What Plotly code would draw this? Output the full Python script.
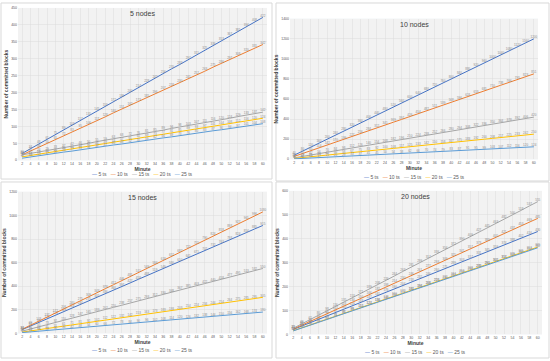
import plotly.graph_objects as go

minutes = list(range(2, 61, 2))
series_names = ["5 ts", "10 ts", "15 ts", "20 ts", "25 ts"]
colors = ["#4472C4", "#ED7D31", "#A5A5A5", "#FFC000", "#5B9BD5"]
panel_titles = ["5 nodes", "10 nodes", "15 nodes", "20 nodes"]
y_max = [450, 1400, 1200, 600]
y_step = [50, 200, 200, 100]

# 5 nodes
n5_5ts = [20, 34, 48, 61, 75, 89, 103, 117, 131, 145, 159, 172, 186, 200, 214, 228, 242, 256, 270, 283, 297, 311, 325, 339, 353, 367, 381, 394, 408, 422]
n5_10ts = [16, 27, 38, 50, 61, 72, 83, 95, 106, 117, 128, 140, 151, 162, 173, 185, 196, 207, 218, 230, 241, 252, 263, 275, 286, 297, 308, 320, 331, 342]
n5_15ts = [16, 20, 24, 29, 33, 37, 42, 46, 50, 55, 59, 63, 68, 72, 76, 81, 85, 89, 94, 98, 103, 107, 111, 116, 120, 124, 129, 133, 137, 142]
n5_20ts = [10, 14, 18, 22, 26, 30, 34, 38, 42, 46, 49, 53, 57, 61, 65, 69, 73, 77, 81, 85, 89, 93, 97, 101, 104, 108, 112, 116, 120, 124]
n5_25ts = [6, 10, 13, 17, 20, 24, 27, 31, 34, 38, 41, 45, 48, 52, 55, 59, 62, 66, 69, 73, 76, 80, 83, 87, 90, 94, 97, 101, 104, 108]

# 10 nodes
n10_5ts = [40, 80, 120, 160, 200, 240, 280, 320, 360, 400, 440, 480, 520, 560, 600, 640, 680, 720, 760, 800, 840, 880, 920, 960, 1000, 1040, 1080, 1120, 1160, 1200]
n10_10ts = [28, 57, 85, 114, 142, 170, 199, 227, 256, 284, 312, 341, 369, 397, 426, 454, 482, 511, 539, 568, 596, 624, 653, 681, 710, 738, 766, 795, 823, 851]
n10_15ts = [14, 28, 42, 56, 70, 84, 98, 112, 126, 140, 154, 168, 182, 196, 210, 224, 238, 252, 266, 280, 294, 308, 322, 336, 350, 364, 378, 392, 406, 420]
n10_20ts = [8, 17, 25, 33, 42, 50, 58, 67, 75, 83, 92, 100, 108, 117, 125, 133, 142, 150, 158, 167, 175, 183, 192, 200, 208, 217, 225, 233, 242, 250]
n10_25ts = [4, 8, 12, 17, 21, 25, 29, 33, 37, 41, 45, 50, 54, 58, 62, 66, 70, 74, 79, 83, 87, 91, 95, 99, 103, 107, 112, 116, 120, 124]

# 15 nodes
n15_5ts = [31, 61, 92, 122, 153, 183, 214, 244, 275, 305, 336, 366, 397, 427, 458, 488, 519, 549, 580, 610, 641, 671, 702, 732, 763, 793, 824, 854, 885, 915]
n15_10ts = [34, 69, 103, 137, 172, 206, 240, 275, 309, 343, 378, 412, 446, 481, 515, 549, 584, 618, 652, 687, 721, 755, 790, 824, 858, 893, 927, 961, 996, 1030]
n15_15ts = [18, 37, 55, 73, 92, 110, 128, 147, 165, 183, 202, 220, 238, 257, 275, 293, 312, 330, 348, 367, 385, 403, 422, 440, 458, 477, 495, 513, 532, 550]
n15_20ts = [10, 20, 31, 41, 51, 61, 71, 81, 92, 102, 112, 122, 132, 142, 153, 163, 173, 183, 193, 203, 214, 224, 234, 244, 254, 264, 275, 285, 295, 305]
n15_25ts = [6, 12, 18, 24, 30, 36, 42, 48, 54, 60, 66, 72, 78, 84, 90, 96, 102, 108, 114, 120, 126, 132, 138, 144, 150, 156, 162, 168, 174, 180]

# 20 nodes
n20_5ts = [20, 34, 48, 62, 77, 91, 105, 119, 133, 147, 161, 176, 190, 204, 218, 232, 246, 260, 275, 289, 303, 317, 331, 345, 359, 374, 388, 402, 416, 430]
n20_10ts = [22, 38, 54, 70, 86, 102, 118, 134, 150, 166, 182, 198, 214, 230, 246, 261, 277, 293, 309, 325, 341, 357, 373, 389, 405, 421, 437, 453, 469, 485]
n20_15ts = [25, 43, 62, 80, 98, 116, 135, 153, 171, 189, 208, 226, 244, 263, 281, 299, 317, 336, 354, 372, 390, 409, 427, 445, 463, 482, 500, 518, 537, 555]
n20_20ts = [15, 27, 39, 51, 63, 75, 87, 99, 112, 124, 136, 148, 160, 172, 184, 196, 208, 220, 232, 244, 256, 268, 280, 292, 305, 317, 329, 341, 353, 365]
n20_25ts = [14, 26, 38, 50, 62, 74, 86, 98, 110, 122, 134, 146, 158, 170, 182, 194, 206, 218, 230, 242, 254, 266, 278, 290, 302, 314, 326, 338, 350, 362]

panels = [
    [n5_5ts, n5_10ts, n5_15ts, n5_20ts, n5_25ts],
    [n10_5ts, n10_10ts, n10_15ts, n10_20ts, n10_25ts],
    [n15_5ts, n15_10ts, n15_15ts, n15_20ts, n15_25ts],
    [n20_5ts, n20_10ts, n20_15ts, n20_20ts, n20_25ts],
]

W, H = 550, 361
def px_x(p): return p / W
def px_y(p): return 1 - p / H

# plot-area boxes in pixels (left, right, top, bottom)
boxes = [(18, 267, 6, 160), (290, 538, 17, 159), (18, 267, 192, 335), (289, 542, 191, 336)]
# outer panel frames (left, right, top, bottom)
frames = [(1, 272, 1, 179), (276, 549, 1, 181), (1, 272, 182, 360), (276, 549, 182, 360)]
legend_y = [174, 177, 352, 354]

FONT = "Liberation Sans"
fig = go.Figure()
layout = dict(width=W, height=H, margin=dict(l=0, r=0, t=0, b=0),
              paper_bgcolor="white", showlegend=False, hovermode=False,
              font=dict(family=FONT, size=5, color="#595959"))
annotations = []
shapes = []

for i, (vals, box) in enumerate(zip(panels, boxes)):
    k = "" if i == 0 else str(i + 1)
    xa, ya = "x" + k, "y" + k
    for name, col, v in zip(series_names, colors, vals):
        fig.add_trace(go.Scatter(
            x=minutes, y=v, name=name, mode="lines+text",
            line=dict(color=col, width=1),
            text=[str(t) for t in v], textposition="top center",
            textfont=dict(size=3, color="#8C8C8C"),
            xaxis=xa, yaxis=ya, cliponaxis=False))
    l, r, t, b = box
    layout["xaxis" + k] = dict(
        domain=[px_x(l), px_x(r)], range=[1, 61], anchor=ya,
        tickmode="array", tickvals=minutes, ticktext=[str(m) for m in minutes],
        tickfont=dict(size=3.5, color="#595959"), ticklen=0,
        showgrid=True, gridcolor="#DCDCDC", gridwidth=0.5,
        zeroline=False, showline=False,
        title=dict(text="<b>Minute</b>", font=dict(size=5, color="#404040"), standoff=1))
    layout["yaxis" + k] = dict(
        domain=[px_y(b), px_y(t)], range=[0, y_max[i]], anchor=xa,
        dtick=y_step[i], tickfont=dict(size=3.5, color="#595959"),
        showgrid=True, gridcolor="#DCDCDC", gridwidth=0.5,
        zeroline=False, showline=False, ticklen=0,
        title=dict(text="<b>Number of committed blocks</b>", font=dict(size=5, color="#404040"), standoff=2))
    shapes.append(dict(type="rect", xref="paper", yref="paper",
                       x0=px_x(l), x1=px_x(r), y0=px_y(b), y1=px_y(t),
                       fillcolor="#F2F2F2", line=dict(width=0), layer="below"))
    fl, fr, ft, fb = frames[i]
    shapes.append(dict(type="rect", xref="paper", yref="paper",
                       x0=px_x(fl), x1=px_x(fr), y0=px_y(fb), y1=px_y(ft),
                       line=dict(color="#D9D9D9", width=1), layer="below"))
    annotations.append(dict(text=panel_titles[i], xref="paper", yref="paper",
                            x=px_x((l + r) / 2), y=px_y(t + 6), showarrow=False,
                            font=dict(size=7, color="#404040"), xanchor="center", yanchor="middle"))
    leg = "   ".join(f'<span style="color:{c}">—</span> {n}' for n, c in zip(series_names, colors))
    annotations.append(dict(text=leg, xref="paper", yref="paper",
                            x=px_x((l + r) / 2), y=px_y(legend_y[i]), showarrow=False,
                            font=dict(size=5, color="#595959"), xanchor="center", yanchor="middle"))

layout["annotations"] = annotations
layout["shapes"] = shapes
fig.update_layout(**layout)
fig.write_html("out.html", config={"displayModeBar": False, "staticPlot": True},
               post_script="document.body.style.margin='0';document.body.style.overflow='hidden';")
